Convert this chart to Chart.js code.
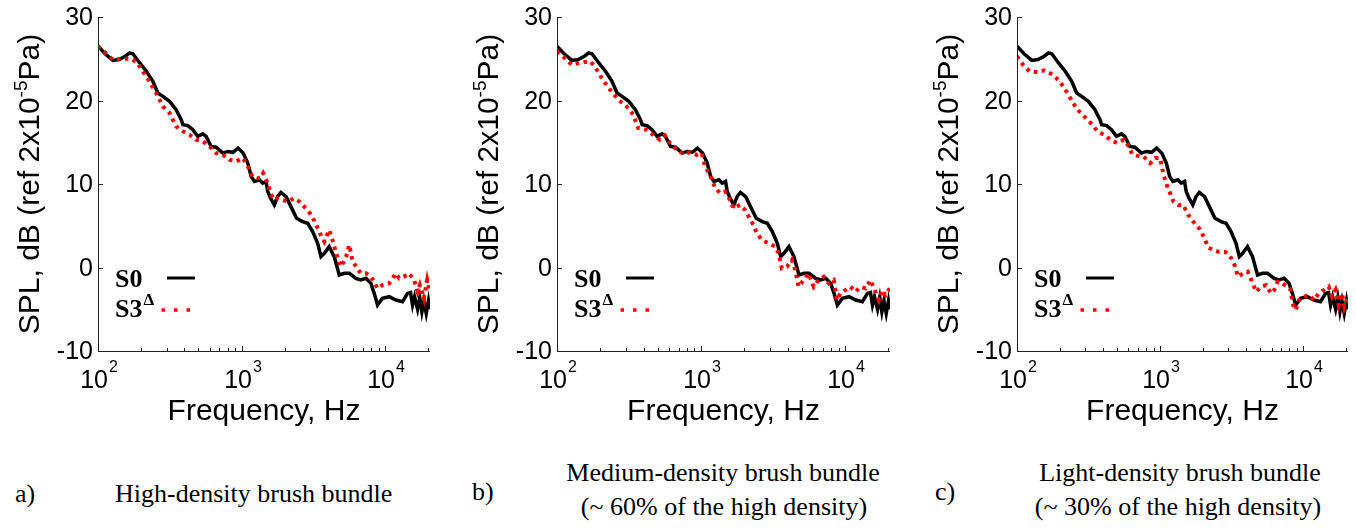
<!DOCTYPE html>
<html>
<head>
<meta charset="utf-8">
<script src="https://cdn.jsdelivr.net/npm/chart.js@4.4.1/dist/chart.umd.min.js"></script>
<style>
  body { margin: 0; background: #fff; width: 1356px; height: 531px; overflow: hidden; position: relative; }
  canvas { position: absolute; top: 0; }
  .cap { position: absolute; font-family: "Liberation Serif", "Times New Roman", serif; font-size: 26px; line-height: 26px; color: #000; white-space: nowrap; }
  .ctr { text-align: center; width: 400px; }
</style>
</head>
<body>
<canvas id="panelA" width="450" height="440" style="left:0px"></canvas>
<canvas id="panelB" width="450" height="440" style="left:460px"></canvas>
<canvas id="panelC" width="436" height="440" style="left:920px"></canvas>

<div class="cap" style="left:15px; top:481px">a)</div>
<div class="cap" style="left:115px; top:481px">High-density brush bundle</div>
<div class="cap" style="left:472px; top:479px">b)</div>
<div class="cap ctr" style="left:523px; top:460px">Medium-density brush bundle</div>
<div class="cap ctr" style="left:524px; top:494px">(~ 60% of the high density)</div>
<div class="cap" style="left:935px; top:479px">c)</div>
<div class="cap ctr" style="left:980px; top:460px">Light-density brush bundle</div>
<div class="cap ctr" style="left:978px; top:494px">(~ 30% of the high density)</div>

<script>
// baseline S0 (same in all three panels)
const freqS0 = [100, 112, 127, 140, 155, 166, 175, 195, 217, 241, 261, 283, 315, 350, 380, 390, 422, 457, 495, 537,
  566, 614, 665, 740, 802, 870, 944, 1025, 1104, 1165, 1229, 1330, 1403, 1480, 1520, 1590, 1690, 1780, 1877, 2040,
  2175, 2415, 2660, 2885, 3125, 3385, 3570, 3765, 4075, 4415, 4785, 5185, 5620, 6250, 6760, 7340, 7950, 8380, 8840, 9560,
  10660, 11860, 13180, 14290, 15000, 15490, 16000, 16800, 17400, 18000, 18600, 19300, 20000, 20400];
const splS0 = [26.5, 25.6, 24.8, 24.9, 25.3, 25.7, 25.6, 24.5, 23.5, 22.3, 20.9, 20.5, 19.9, 18.9, 17.7, 17.1, 17.0, 16.5, 15.7, 16.0,
  15.7, 14.5, 14.4, 13.7, 13.9, 13.8, 14.3, 13.7, 12.5, 10.9, 10.3, 10.5, 10.1, 10.3, 9.1, 8.3, 7.5, 8.5, 9.0, 8.5,
  7.5, 5.9, 5.5, 5.3, 4.3, 2.9, 1.3, 1.7, 2.5, 1.3, -0.9, -0.7, -0.7, -1.3, -1.5, -1.3, -1.9, -3.1, -4.5, -3.7,
  -3.5, -3.9, -4.1, -3.1, -3.0, -4.5, -3.5, -5.0, -3.6, -5.3, -4.0, -5.5, -4.0, -5.0];

// S3 with the high-density bundle
const freqS3a = [100, 127, 149, 170, 188, 205, 228, 254, 283, 315, 350, 390, 433, 482, 537, 598, 665, 740, 823, 915,
  1020, 1104, 1190, 1280, 1345, 1412, 1520, 1590, 1690, 1780, 1920, 2125, 2300, 2520, 2790, 2990, 3230, 3600, 3765, 4075,
  4290, 4705, 4940, 5340, 5620, 5900, 6250, 6760, 7340, 7950, 8380, 8840, 9560, 10660, 11860, 12500, 13500, 14650, 15900, 16800,
  17400, 18600, 19600, 20300];
const splS3a = [26.5, 24.9, 25.0, 25.0, 24.5, 23.5, 22.3, 20.9, 19.3, 18.5, 16.9, 16.3, 15.9, 15.3, 15.1, 14.5, 13.7, 13.5, 12.9, 12.7,
  13.1, 12.1, 10.9, 10.7, 10.7, 11.3, 10.1, 8.9, 8.1, 8.3, 8.1, 7.9, 8.3, 7.9, 7.1, 6.5, 5.5, 3.7, 3.1, 4.5,
  3.3, 0.9, 0.1, 1.3, 2.7, 0.9, 0.1, -0.7, -0.7, -1.1, -1.7, -2.5, -2.1, -1.9, -0.7, -1.3, -1.1, -0.7, -1.5, -2.9,
  -2.1, -3.7, -1.5, -2.7];

// S3 with the medium-density bundle
const freqS3b = [100, 113, 126, 144, 169, 183, 204, 233, 266, 304, 338, 366, 418, 465, 518, 562, 608, 660, 753, 837,
  932, 1011, 1067, 1156, 1253, 1357, 1470, 1586, 1680, 1865, 2020, 2140, 2310, 2440, 2640, 2945, 3275, 3455, 3640, 3950,
  4270, 4505, 4755, 5150, 5580, 6050, 6560, 7110, 7700, 8340, 8790, 9270, 10050, 10890, 11800, 12790, 13860, 15000, 16260, 17150,
  18080, 19050, 20400];
const splS3b = [25.9, 25.1, 24.3, 24.5, 24.7, 24.1, 22.7, 21.3, 20.1, 19.3, 18.3, 16.7, 16.5, 15.9, 15.3, 15.8, 14.9, 14.3, 13.6, 13.8,
  13.5, 13.7, 12.1, 11.1, 9.5, 8.9, 9.1, 8.1, 7.1, 7.5, 6.9, 6.1, 5.1, 4.1, 3.3, 2.9, 2.5, 1.7, -0.1, 0.1,
  0.9, -0.3, -2.3, -1.5, -0.7, -2.3, -1.5, -1.1, -1.9, -1.5, -3.9, -3.1, -2.7, -2.3, -2.9, -2.3, -2.5, -1.5, -2.9, -3.9,
  -2.7, -3.3, -2.5];

// S3 with the light-density bundle
const freqS3c = [100, 110, 122, 140, 155, 178, 198, 214, 232, 251, 272, 302, 336, 364, 405, 450, 501, 557, 604, 636,
  689, 767, 852, 923, 1000, 1055, 1112, 1174, 1237, 1340, 1447, 1570, 1700, 1890, 2050, 2160, 2340, 2540, 2820, 3050,
  3310, 3490, 3780, 4090, 4430, 4680, 5060, 5490, 5940, 6260, 6610, 7150, 7740, 8170, 8390, 8850, 9330, 10050, 10900, 11850,
  12820, 13890, 15050, 15860, 16750, 17650, 18620, 19330, 20300];
const splS3c = [25.3, 24.3, 23.5, 23.4, 23.6, 23.1, 22.3, 21.5, 20.5, 19.5, 18.7, 17.9, 17.1, 16.3, 15.9, 15.3, 14.9, 15.3, 14.5, 13.6,
  13.4, 13.3, 12.5, 13.1, 13.1, 11.1, 9.9, 8.9, 7.9, 7.5, 7.5, 6.3, 5.5, 4.6, 3.4, 2.4, 2.1, 1.9, 1.9, 1.5,
  0.3, -1.1, -0.7, -0.5, -1.9, -2.9, -2.3, -2.1, -3.1, -2.7, -1.7, -1.9, -2.3, -2.7, -4.3, -5.1, -3.9, -3.5, -3.3, -3.9,
  -3.1, -2.7, -2.3, -3.5, -2.7, -4.5, -3.1, -4.7, -3.6];

const yTicks = [30, 20, 10, 0, -10];
const xDecades = [2, 3, 4];
const xMinor = [200, 300, 400, 500, 600, 700, 800, 900, 2000, 3000, 4000, 5000, 6000, 7000, 8000, 9000, 20000];

const sans = '"Liberation Sans", Arial, sans-serif';
const serif = '"Liberation Serif", "Times New Roman", serif';

function pts(f, v) {
  return f.map((x, i) => ({ x: x, y: v[i] }));
}

// axes, ticks, titles and legend in the matlab look
const decor = {
  id: 'decor',
  afterDraw(chart) {
    const ctx = chart.ctx;
    const a = chart.chartArea;
    const x = chart.scales.x, y = chart.scales.y;
    ctx.save();
    ctx.strokeStyle = '#222';
    ctx.fillStyle = '#000';
    ctx.lineWidth = 1;
    ctx.beginPath();
    ctx.moveTo(a.left + 0.5, a.top);
    ctx.lineTo(a.left + 0.5, a.bottom + 0.5);
    ctx.lineTo(a.right, a.bottom + 0.5);
    ctx.stroke();

    // y ticks
    ctx.font = '25px ' + sans;
    ctx.textAlign = 'right';
    ctx.textBaseline = 'middle';
    yTicks.forEach(v => {
      const py = Math.round(y.getPixelForValue(v)) + 0.5;
      ctx.beginPath();
      ctx.moveTo(a.left, py);
      ctx.lineTo(a.left + 5, py);
      ctx.stroke();
      ctx.fillText(String(v), a.left - 5, py + 1);
    });

    // x ticks
    xMinor.forEach(f => {
      const px = Math.round(x.getPixelForValue(f)) + 0.5;
      ctx.beginPath();
      ctx.moveTo(px, a.bottom);
      ctx.lineTo(px, a.bottom - 3);
      ctx.stroke();
    });
    ctx.textAlign = 'left';
    ctx.textBaseline = 'alphabetic';
    xDecades.forEach(e => {
      const px = Math.round(x.getPixelForValue(Math.pow(10, e))) + 0.5;
      ctx.beginPath();
      ctx.moveTo(px, a.bottom);
      ctx.lineTo(px, a.bottom - 5);
      ctx.stroke();
      ctx.font = '25px ' + sans;
      const w1 = ctx.measureText('10').width;
      ctx.font = '16px ' + sans;
      const w2 = ctx.measureText(String(e)).width;
      const x0 = px - (w1 + w2) / 2;
      ctx.font = '25px ' + sans;
      ctx.fillText('10', x0, a.bottom + 37);
      ctx.font = '16px ' + sans;
      ctx.fillText(String(e), x0 + w1 + 1, a.bottom + 21);
    });

    // x title
    ctx.font = '30px ' + sans;
    ctx.textAlign = 'center';
    ctx.fillText('Frequency, Hz', (a.left + a.right) / 2, a.bottom + 69);

    // y title, rotated
    ctx.save();
    ctx.translate(a.left - 59, (a.top + a.bottom) / 2);
    ctx.rotate(-Math.PI / 2);
    ctx.textAlign = 'left';
    const t1 = 'SPL, dB (ref 2x10', t2 = '-5', t3 = 'Pa)';
    ctx.font = '30px ' + sans;
    const wa = ctx.measureText(t1).width, wc = ctx.measureText(t3).width;
    ctx.font = '19px ' + sans;
    const wb = ctx.measureText(t2).width;
    let sx = -(wa + wb + wc) / 2;
    ctx.font = '30px ' + sans;
    ctx.fillText(t1, sx, 0);
    ctx.font = '19px ' + sans;
    ctx.fillText(t2, sx + wa, -12);
    ctx.font = '30px ' + sans;
    ctx.fillText(t3, sx + wa + wb, 0);
    ctx.restore();

    // legend
    const L = a.left, T = a.top;
    ctx.textAlign = 'left';
    ctx.font = 'bold 26px ' + serif;
    ctx.fillText('S0', L + 17, T + 270);
    const ws = ctx.measureText('S3').width;
    ctx.fillText('S3', L + 17, T + 300);
    ctx.font = 'bold 17px ' + serif;
    ctx.fillText('\u0394', L + 18 + ws, T + 288);
    ctx.strokeStyle = '#000';
    ctx.lineWidth = 3;
    ctx.beginPath();
    ctx.moveTo(L + 69, T + 261);
    ctx.lineTo(L + 97, T + 261);
    ctx.stroke();
    ctx.strokeStyle = '#ff0000';
    ctx.lineWidth = 3.5;
    ctx.setLineDash([3.5, 9]);
    ctx.beginPath();
    ctx.moveTo(L + 63.5, T + 293);
    ctx.lineTo(L + 93, T + 293);
    ctx.stroke();
    ctx.restore();
  }
};

function makePanel(id, s3f, s3v, yWidth, padRight) {
  return new Chart(document.getElementById(id), {
    type: 'line',
    data: {
      datasets: [
        {
          label: 'S3',
          data: pts(s3f, s3v),
          borderColor: '#ff0000',
          borderWidth: 4,
          borderDash: [3.5, 4.5],
          pointRadius: 0,
          tension: 0,
          fill: false
        },
        {
          label: 'S0',
          data: pts(freqS0, splS0),
          borderColor: '#000000',
          borderWidth: 3.5,
          pointRadius: 0,
          tension: 0,
          fill: false
        }
      ]
    },
    options: {
      responsive: false,
      animation: false,
      devicePixelRatio: 1,
      layout: { padding: { top: 17, right: padRight, left: 0, bottom: 0 } },
      plugins: { legend: { display: false }, tooltip: { enabled: false } },
      scales: {
        x: {
          type: 'logarithmic', min: 100, max: 20500,
          ticks: { display: false }, grid: { display: false }, border: { display: false },
          afterFit: function(s) { s.height = 89; }
        },
        y: {
          min: -10, max: 30,
          ticks: { display: false }, grid: { display: false }, border: { display: false },
          afterFit: function(s) { s.width = yWidth; }
        }
      }
    },
    plugins: [decor]
  });
}

makePanel('panelA', freqS3a, splS3a, 98, 20);
makePanel('panelB', freqS3b, splS3b, 97, 20);
makePanel('panelC', freqS3c, splS3c, 97, 8);
</script>
</body>
</html>
